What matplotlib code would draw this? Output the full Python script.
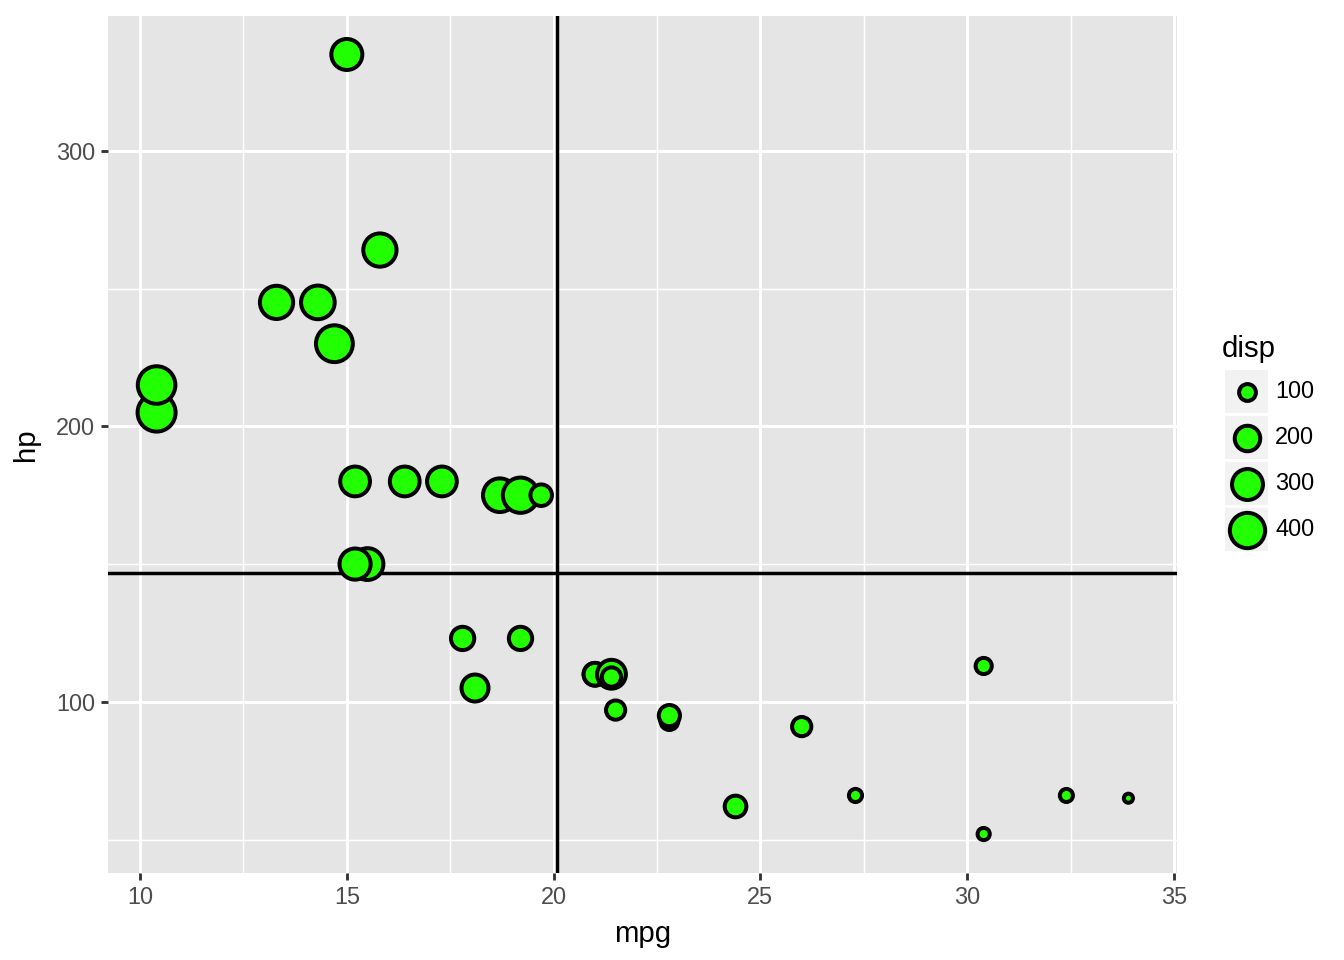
import numpy as np
import matplotlib
matplotlib.use("Agg")
import matplotlib.pyplot as plt
from matplotlib.patches import Rectangle

plt.rcParams['font.family'] = ['Liberation Sans', 'DejaVu Sans']

# datos mtcars: mpg, hp, disp
mpg = [21.0, 21.0, 22.8, 21.4, 18.7, 18.1, 14.3, 24.4, 22.8, 19.2, 17.8,
       16.4, 17.3, 15.2, 10.4, 10.4, 14.7, 32.4, 30.4, 33.9, 21.5, 15.5,
       15.2, 13.3, 19.2, 27.3, 26.0, 30.4, 15.8, 19.7, 15.0, 21.4]
hp = [110, 110, 93, 110, 175, 105, 245, 62, 95, 123, 123,
      180, 180, 180, 205, 215, 230, 66, 52, 65, 97, 150,
      150, 245, 175, 66, 91, 113, 264, 175, 335, 109]
disp = [160, 160, 108, 258, 360, 225, 360, 146.7, 140.8, 167.6, 167.6,
        275.8, 275.8, 275.8, 472, 460, 440, 78.7, 75.7, 71.1, 120.1, 318,
        304, 350, 400, 79, 120.3, 95.1, 351, 145, 301, 121]
legend_breaks = [100, 200, 300, 400]

fill = '#22FF00'
dmin, dmax = min(disp), max(disp)


def diam(d):
    # diametro (pt) con escala de area como scale_size de ggplot
    t = np.clip((np.asarray(d, dtype=float) - dmin) / (dmax - dmin), 0, 1)
    return 3.4 + 10.85 * np.sqrt(t)


fig = plt.figure(figsize=(7, 5), dpi=192)
ax = fig.add_axes([108 / 1344, 1 - 873 / 960, (1177 - 108) / 1344, (873 - 15.5) / 960])
ax.set_facecolor('#E5E5E5')

xlo, xhi = min(mpg), max(mpg)
ylo, yhi = min(hp), max(hp)
ax.set_xlim(xlo - 0.05 * (xhi - xlo), xhi + 0.05 * (xhi - xlo))
ax.set_ylim(ylo - 0.05 * (yhi - ylo), yhi + 0.05 * (yhi - ylo))

ax.set_xticks([10, 15, 20, 25, 30, 35])
ax.set_yticks([100, 200, 300])
ax.set_xticks([12.5, 17.5, 22.5, 27.5, 32.5], minor=True)
ax.set_yticks([50, 150, 250], minor=True)
ax.grid(True, which='major', color='white', linewidth=1.1)
ax.grid(True, which='minor', color='white', linewidth=0.55)
ax.set_axisbelow(True)
for s in ax.spines.values():
    s.set_visible(False)
ax.tick_params(which='major', length=2.75, width=1.07, color='#333333',
               labelsize=8.8, labelcolor='#4D4D4D', pad=2.2)
ax.tick_params(which='minor', length=0)

ax.axvline(np.mean(mpg), color='black', linewidth=1.3, zorder=2)
ax.axhline(np.mean(hp), color='black', linewidth=1.3, zorder=2)

ax.scatter(mpg, hp, s=diam(disp) ** 2, c=fill, edgecolors='black',
           linewidths=1.5, zorder=3)

ax.set_xlabel('mpg', fontsize=11, labelpad=4)
ax.set_ylabel('hp', fontsize=11, labelpad=6)

# leyenda manual
lax = fig.add_axes([0, 0, 1, 1])
lax.set_xlim(0, 1344)
lax.set_ylim(960, 0)
lax.axis('off')
lax.text(1222, 349, 'disp', fontsize=11, va='center', ha='left')
for i, b in enumerate(legend_breaks):
    y0 = 370 + i * 46
    lax.add_patch(Rectangle((1225, y0), 43, 43, facecolor='#F2F2F2', edgecolor='none'))
    lax.scatter([1246.5], [y0 + 21.5], s=diam(b) ** 2, c=fill, edgecolors='black',
                linewidths=1.5)
    lax.text(1275, y0 + 21.5, str(b), fontsize=8.8, va='center', ha='left')

fig.savefig('out.png', dpi=192)
